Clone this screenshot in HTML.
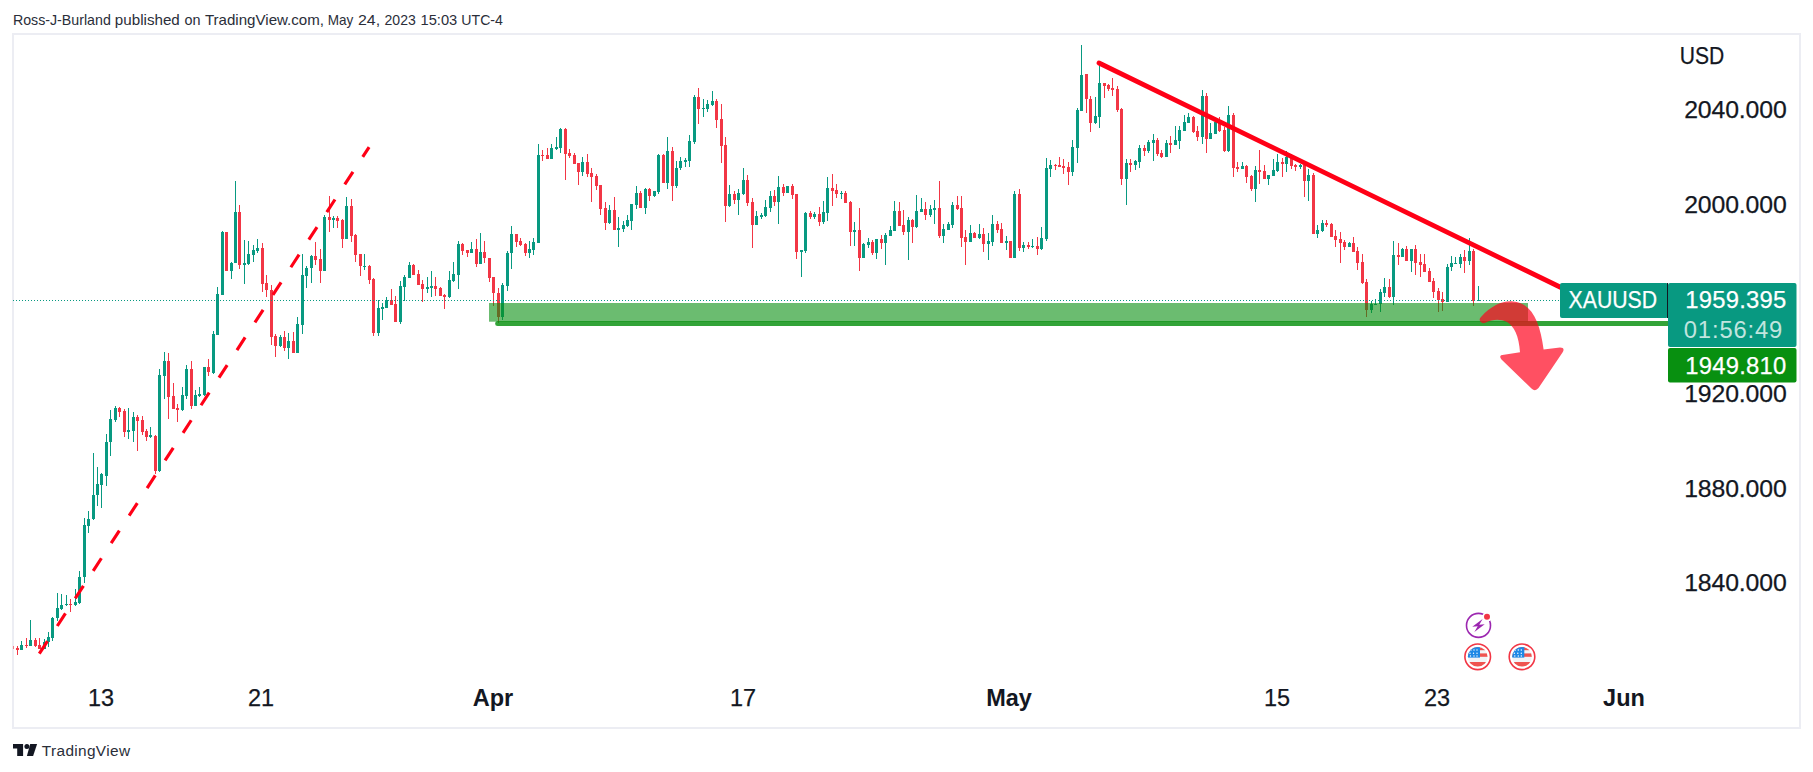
<!DOCTYPE html>
<html><head><meta charset="utf-8"><title>XAUUSD chart</title>
<style>
html,body{margin:0;padding:0;background:#fff;}
body{width:1813px;height:772px;position:relative;overflow:hidden;font-family:"Liberation Sans","DejaVu Sans",sans-serif;color:#131722;}
#frame{position:absolute;left:12px;top:33px;width:1785px;height:692px;border:2px solid #ecedf3;}
svg{position:absolute;left:0;top:0;}
.ax{font-size:24.8px;fill:#131722;stroke:#131722;stroke-width:0.25px;}
.tm{font-size:24.8px;fill:#131722;stroke:#131722;stroke-width:0.25px;}
.b{font-weight:bold;stroke:none;}
</style></head><body>
<div id="frame"></div>
<svg width="1813" height="772" viewBox="0 0 1813 772" font-family="'Liberation Sans','DejaVu Sans',sans-serif">
<!--HDR-->
<text y="25.3" font-size="14.6" fill="#2a2e39" xml:space="default"><tspan x="12.88" textLength="97.92" lengthAdjust="spacingAndGlyphs">Ross-J-Burland</tspan> <tspan x="114.88" textLength="64.92" lengthAdjust="spacingAndGlyphs">published</tspan> <tspan x="184.46" textLength="16.00" lengthAdjust="spacingAndGlyphs">on</tspan> <tspan x="204.90" textLength="119.14" lengthAdjust="spacingAndGlyphs">TradingView.com,</tspan> <tspan x="327.66" textLength="25.56" lengthAdjust="spacingAndGlyphs">May</tspan> <tspan x="358.00" textLength="22.14" lengthAdjust="spacingAndGlyphs">24,</tspan> <tspan x="384.56" textLength="31.24" lengthAdjust="spacingAndGlyphs">2023</tspan> <tspan x="420.54" textLength="36.70" lengthAdjust="spacingAndGlyphs">15:03</tspan> <tspan x="461.32" textLength="41.58" lengthAdjust="spacingAndGlyphs">UTC-4</tspan></text>
<!--/HDR-->
<!-- dotted price line -->
<g shape-rendering="crispEdges">
<rect x="13" y="646" width="1" height="3" fill="#f23645" fill-opacity="0.6"/>
<rect x="17" y="646" width="1" height="9" fill="#f23645"/><rect x="16" y="648" width="3" height="2" fill="#f23645"/>
<rect x="21" y="641" width="1" height="9" fill="#089981"/><rect x="20" y="645" width="3" height="5" fill="#089981"/>
<rect x="26" y="638" width="1" height="10" fill="#f23645"/><rect x="25" y="645" width="3" height="1" fill="#f23645"/>
<rect x="30" y="620" width="1" height="26" fill="#089981"/><rect x="29" y="640" width="3" height="6" fill="#089981"/>
<rect x="35" y="638" width="1" height="9" fill="#f23645"/><rect x="34" y="640" width="3" height="6" fill="#f23645"/>
<rect x="39" y="638" width="1" height="11" fill="#f23645"/><rect x="38" y="645" width="3" height="4" fill="#f23645"/>
<rect x="44" y="639" width="1" height="10" fill="#089981"/><rect x="43" y="642" width="3" height="7" fill="#089981"/>
<rect x="48" y="632" width="1" height="15" fill="#089981"/><rect x="47" y="637" width="3" height="5" fill="#089981"/>
<rect x="52" y="617" width="1" height="24" fill="#089981"/><rect x="51" y="618" width="3" height="20" fill="#089981"/>
<rect x="57" y="593" width="1" height="28" fill="#089981"/><rect x="56" y="608" width="3" height="10" fill="#089981"/>
<rect x="61" y="594" width="1" height="16" fill="#089981"/><rect x="60" y="605" width="3" height="4" fill="#089981"/>
<rect x="66" y="595" width="1" height="11" fill="#089981"/><rect x="65" y="604" width="3" height="1" fill="#089981"/>
<rect x="70" y="599" width="1" height="13" fill="#f23645"/><rect x="69" y="604" width="3" height="1" fill="#f23645"/>
<rect x="75" y="589" width="1" height="17" fill="#089981"/><rect x="74" y="602" width="3" height="3" fill="#089981"/>
<rect x="79" y="571" width="1" height="33" fill="#089981"/><rect x="78" y="577" width="3" height="26" fill="#089981"/>
<rect x="84" y="518" width="1" height="65" fill="#089981"/><rect x="83" y="525" width="3" height="52" fill="#089981"/>
<rect x="88" y="511" width="1" height="22" fill="#089981"/><rect x="87" y="519" width="3" height="7" fill="#089981"/>
<rect x="93" y="453" width="1" height="67" fill="#089981"/><rect x="92" y="495" width="3" height="24" fill="#089981"/>
<rect x="97" y="467" width="1" height="39" fill="#089981"/><rect x="96" y="484" width="3" height="11" fill="#089981"/>
<rect x="101" y="473" width="1" height="35" fill="#089981"/><rect x="100" y="474" width="3" height="11" fill="#089981"/>
<rect x="106" y="434" width="1" height="52" fill="#089981"/><rect x="105" y="442" width="3" height="34" fill="#089981"/>
<rect x="110" y="410" width="1" height="46" fill="#089981"/><rect x="109" y="419" width="3" height="23" fill="#089981"/>
<rect x="115" y="406" width="1" height="16" fill="#089981"/><rect x="114" y="408" width="3" height="12" fill="#089981"/>
<rect x="119" y="407" width="1" height="10" fill="#f23645"/><rect x="118" y="408" width="3" height="4" fill="#f23645"/>
<rect x="124" y="409" width="1" height="28" fill="#f23645"/><rect x="123" y="411" width="3" height="21" fill="#f23645"/>
<rect x="128" y="408" width="1" height="31" fill="#089981"/><rect x="127" y="430" width="3" height="2" fill="#089981"/>
<rect x="133" y="412" width="1" height="30" fill="#089981"/><rect x="132" y="417" width="3" height="14" fill="#089981"/>
<rect x="137" y="415" width="1" height="36" fill="#f23645"/><rect x="136" y="417" width="3" height="4" fill="#f23645"/>
<rect x="142" y="416" width="1" height="19" fill="#f23645"/><rect x="141" y="420" width="3" height="12" fill="#f23645"/>
<rect x="146" y="429" width="1" height="12" fill="#f23645"/><rect x="145" y="431" width="3" height="6" fill="#f23645"/>
<rect x="150" y="427" width="1" height="11" fill="#089981"/><rect x="149" y="435" width="3" height="2" fill="#089981"/>
<rect x="155" y="435" width="1" height="39" fill="#f23645"/><rect x="154" y="436" width="3" height="35" fill="#f23645"/>
<rect x="159" y="369" width="1" height="103" fill="#089981"/><rect x="158" y="375" width="3" height="96" fill="#089981"/>
<rect x="164" y="352" width="1" height="47" fill="#089981"/><rect x="163" y="361" width="3" height="15" fill="#089981"/>
<rect x="168" y="353" width="1" height="66" fill="#f23645"/><rect x="167" y="361" width="3" height="36" fill="#f23645"/>
<rect x="173" y="383" width="1" height="26" fill="#f23645"/><rect x="172" y="396" width="3" height="13" fill="#f23645"/>
<rect x="177" y="404" width="1" height="18" fill="#f23645"/><rect x="176" y="408" width="3" height="2" fill="#f23645"/>
<rect x="182" y="387" width="1" height="24" fill="#089981"/><rect x="181" y="395" width="3" height="15" fill="#089981"/>
<rect x="186" y="365" width="1" height="34" fill="#089981"/><rect x="185" y="369" width="3" height="27" fill="#089981"/>
<rect x="191" y="361" width="1" height="48" fill="#f23645"/><rect x="190" y="369" width="3" height="37" fill="#f23645"/>
<rect x="195" y="390" width="1" height="16" fill="#089981"/><rect x="194" y="395" width="3" height="11" fill="#089981"/>
<rect x="199" y="387" width="1" height="10" fill="#089981"/><rect x="198" y="394" width="3" height="2" fill="#089981"/>
<rect x="204" y="367" width="1" height="29" fill="#089981"/><rect x="203" y="367" width="3" height="28" fill="#089981"/>
<rect x="208" y="359" width="1" height="17" fill="#f23645"/><rect x="207" y="367" width="3" height="5" fill="#f23645"/>
<rect x="213" y="331" width="1" height="43" fill="#089981"/><rect x="212" y="334" width="3" height="39" fill="#089981"/>
<rect x="217" y="287" width="1" height="48" fill="#089981"/><rect x="216" y="294" width="3" height="41" fill="#089981"/>
<rect x="222" y="231" width="1" height="64" fill="#089981"/><rect x="221" y="232" width="3" height="63" fill="#089981"/>
<rect x="226" y="232" width="1" height="39" fill="#f23645"/><rect x="225" y="232" width="3" height="39" fill="#f23645"/>
<rect x="231" y="262" width="1" height="17" fill="#089981"/><rect x="230" y="263" width="3" height="8" fill="#089981"/>
<rect x="235" y="181" width="1" height="82" fill="#089981"/><rect x="234" y="212" width="3" height="51" fill="#089981"/>
<rect x="239" y="205" width="1" height="64" fill="#f23645"/><rect x="238" y="212" width="3" height="53" fill="#f23645"/>
<rect x="244" y="240" width="1" height="44" fill="#089981"/><rect x="243" y="263" width="3" height="2" fill="#089981"/>
<rect x="248" y="241" width="1" height="24" fill="#089981"/><rect x="247" y="254" width="3" height="10" fill="#089981"/>
<rect x="253" y="245" width="1" height="17" fill="#089981"/><rect x="252" y="250" width="3" height="5" fill="#089981"/>
<rect x="257" y="239" width="1" height="14" fill="#089981"/><rect x="256" y="248" width="3" height="3" fill="#089981"/>
<rect x="262" y="243" width="1" height="49" fill="#f23645"/><rect x="261" y="248" width="3" height="36" fill="#f23645"/>
<rect x="266" y="275" width="1" height="22" fill="#f23645"/><rect x="265" y="283" width="3" height="7" fill="#f23645"/>
<rect x="271" y="285" width="1" height="60" fill="#f23645"/><rect x="270" y="290" width="3" height="47" fill="#f23645"/>
<rect x="275" y="334" width="1" height="23" fill="#f23645"/><rect x="274" y="336" width="3" height="10" fill="#f23645"/>
<rect x="280" y="335" width="1" height="12" fill="#089981"/><rect x="279" y="337" width="3" height="9" fill="#089981"/>
<rect x="284" y="331" width="1" height="20" fill="#f23645"/><rect x="283" y="337" width="3" height="11" fill="#f23645"/>
<rect x="288" y="333" width="1" height="26" fill="#089981"/><rect x="287" y="341" width="3" height="7" fill="#089981"/>
<rect x="293" y="332" width="1" height="21" fill="#f23645"/><rect x="292" y="341" width="3" height="12" fill="#f23645"/>
<rect x="297" y="317" width="1" height="36" fill="#089981"/><rect x="296" y="324" width="3" height="29" fill="#089981"/>
<rect x="302" y="254" width="1" height="80" fill="#089981"/><rect x="301" y="275" width="3" height="50" fill="#089981"/>
<rect x="306" y="266" width="1" height="22" fill="#089981"/><rect x="305" y="268" width="3" height="8" fill="#089981"/>
<rect x="311" y="255" width="1" height="28" fill="#089981"/><rect x="310" y="256" width="3" height="12" fill="#089981"/>
<rect x="315" y="242" width="1" height="23" fill="#f23645"/><rect x="314" y="256" width="3" height="4" fill="#f23645"/>
<rect x="320" y="249" width="1" height="34" fill="#f23645"/><rect x="319" y="259" width="3" height="12" fill="#f23645"/>
<rect x="324" y="215" width="1" height="56" fill="#089981"/><rect x="323" y="217" width="3" height="54" fill="#089981"/>
<rect x="329" y="196" width="1" height="36" fill="#f23645"/><rect x="328" y="217" width="3" height="3" fill="#f23645"/>
<rect x="333" y="216" width="1" height="12" fill="#089981"/><rect x="332" y="218" width="3" height="2" fill="#089981"/>
<rect x="337" y="216" width="1" height="12" fill="#f23645"/><rect x="336" y="218" width="3" height="3" fill="#f23645"/>
<rect x="342" y="219" width="1" height="29" fill="#f23645"/><rect x="341" y="220" width="3" height="19" fill="#f23645"/>
<rect x="346" y="197" width="1" height="42" fill="#089981"/><rect x="345" y="206" width="3" height="33" fill="#089981"/>
<rect x="351" y="199" width="1" height="43" fill="#f23645"/><rect x="350" y="206" width="3" height="30" fill="#f23645"/>
<rect x="355" y="234" width="1" height="28" fill="#f23645"/><rect x="354" y="235" width="3" height="20" fill="#f23645"/>
<rect x="360" y="254" width="1" height="22" fill="#f23645"/><rect x="359" y="254" width="3" height="12" fill="#f23645"/>
<rect x="364" y="254" width="1" height="16" fill="#089981"/><rect x="363" y="266" width="3" height="1" fill="#089981"/>
<rect x="369" y="265" width="1" height="19" fill="#f23645"/><rect x="368" y="266" width="3" height="14" fill="#f23645"/>
<rect x="373" y="278" width="1" height="58" fill="#f23645"/><rect x="372" y="279" width="3" height="54" fill="#f23645"/>
<rect x="378" y="300" width="1" height="36" fill="#089981"/><rect x="377" y="308" width="3" height="25" fill="#089981"/>
<rect x="382" y="303" width="1" height="17" fill="#089981"/><rect x="381" y="307" width="3" height="2" fill="#089981"/>
<rect x="386" y="297" width="1" height="11" fill="#089981"/><rect x="385" y="300" width="3" height="8" fill="#089981"/>
<rect x="391" y="289" width="1" height="16" fill="#f23645"/><rect x="390" y="300" width="3" height="5" fill="#f23645"/>
<rect x="395" y="296" width="1" height="26" fill="#f23645"/><rect x="394" y="304" width="3" height="18" fill="#f23645"/>
<rect x="400" y="281" width="1" height="43" fill="#089981"/><rect x="399" y="286" width="3" height="36" fill="#089981"/>
<rect x="404" y="275" width="1" height="26" fill="#089981"/><rect x="403" y="277" width="3" height="10" fill="#089981"/>
<rect x="409" y="262" width="1" height="16" fill="#089981"/><rect x="408" y="265" width="3" height="13" fill="#089981"/>
<rect x="413" y="264" width="1" height="11" fill="#f23645"/><rect x="412" y="265" width="3" height="10" fill="#f23645"/>
<rect x="418" y="270" width="1" height="15" fill="#f23645"/><rect x="417" y="274" width="3" height="11" fill="#f23645"/>
<rect x="422" y="280" width="1" height="22" fill="#f23645"/><rect x="421" y="284" width="3" height="5" fill="#f23645"/>
<rect x="427" y="277" width="1" height="16" fill="#089981"/><rect x="426" y="287" width="3" height="2" fill="#089981"/>
<rect x="431" y="271" width="1" height="26" fill="#089981"/><rect x="430" y="286" width="3" height="2" fill="#089981"/>
<rect x="435" y="277" width="1" height="19" fill="#f23645"/><rect x="434" y="286" width="3" height="3" fill="#f23645"/>
<rect x="440" y="287" width="1" height="9" fill="#f23645"/><rect x="439" y="288" width="3" height="8" fill="#f23645"/>
<rect x="444" y="294" width="1" height="15" fill="#f23645"/><rect x="443" y="295" width="3" height="2" fill="#f23645"/>
<rect x="449" y="271" width="1" height="27" fill="#089981"/><rect x="448" y="280" width="3" height="17" fill="#089981"/>
<rect x="453" y="262" width="1" height="20" fill="#089981"/><rect x="452" y="274" width="3" height="7" fill="#089981"/>
<rect x="458" y="241" width="1" height="48" fill="#089981"/><rect x="457" y="244" width="3" height="31" fill="#089981"/>
<rect x="462" y="243" width="1" height="12" fill="#f23645"/><rect x="461" y="244" width="3" height="7" fill="#f23645"/>
<rect x="467" y="250" width="1" height="7" fill="#f23645"/><rect x="466" y="250" width="3" height="3" fill="#f23645"/>
<rect x="471" y="242" width="1" height="11" fill="#089981"/><rect x="470" y="249" width="3" height="4" fill="#089981"/>
<rect x="476" y="239" width="1" height="28" fill="#f23645"/><rect x="475" y="249" width="3" height="15" fill="#f23645"/>
<rect x="480" y="233" width="1" height="31" fill="#089981"/><rect x="479" y="252" width="3" height="12" fill="#089981"/>
<rect x="484" y="241" width="1" height="22" fill="#f23645"/><rect x="483" y="252" width="3" height="6" fill="#f23645"/>
<rect x="489" y="258" width="1" height="24" fill="#f23645"/><rect x="488" y="258" width="3" height="20" fill="#f23645"/>
<rect x="493" y="277" width="1" height="29" fill="#f23645"/><rect x="492" y="277" width="3" height="16" fill="#f23645"/>
<rect x="498" y="288" width="1" height="35" fill="#f23645"/><rect x="497" y="293" width="3" height="24" fill="#f23645"/>
<rect x="502" y="283" width="1" height="37" fill="#089981"/><rect x="501" y="285" width="3" height="32" fill="#089981"/>
<rect x="507" y="251" width="1" height="40" fill="#089981"/><rect x="506" y="253" width="3" height="33" fill="#089981"/>
<rect x="511" y="226" width="1" height="43" fill="#089981"/><rect x="510" y="234" width="3" height="19" fill="#089981"/>
<rect x="516" y="234" width="1" height="13" fill="#f23645"/><rect x="515" y="234" width="3" height="8" fill="#f23645"/>
<rect x="520" y="238" width="1" height="8" fill="#f23645"/><rect x="519" y="241" width="3" height="4" fill="#f23645"/>
<rect x="525" y="243" width="1" height="13" fill="#f23645"/><rect x="524" y="244" width="3" height="9" fill="#f23645"/>
<rect x="529" y="241" width="1" height="17" fill="#089981"/><rect x="528" y="249" width="3" height="4" fill="#089981"/>
<rect x="533" y="238" width="1" height="17" fill="#089981"/><rect x="532" y="242" width="3" height="8" fill="#089981"/>
<rect x="538" y="144" width="1" height="99" fill="#089981"/><rect x="537" y="155" width="3" height="88" fill="#089981"/>
<rect x="542" y="150" width="1" height="11" fill="#f23645"/><rect x="541" y="155" width="3" height="1" fill="#f23645"/>
<rect x="547" y="148" width="1" height="11" fill="#f23645"/><rect x="546" y="155" width="3" height="4" fill="#f23645"/>
<rect x="551" y="144" width="1" height="15" fill="#089981"/><rect x="550" y="148" width="3" height="11" fill="#089981"/>
<rect x="556" y="137" width="1" height="13" fill="#089981"/><rect x="555" y="147" width="3" height="2" fill="#089981"/>
<rect x="560" y="128" width="1" height="25" fill="#089981"/><rect x="559" y="129" width="3" height="19" fill="#089981"/>
<rect x="565" y="128" width="1" height="52" fill="#f23645"/><rect x="564" y="129" width="3" height="25" fill="#f23645"/>
<rect x="569" y="149" width="1" height="9" fill="#f23645"/><rect x="568" y="153" width="3" height="3" fill="#f23645"/>
<rect x="574" y="153" width="1" height="11" fill="#f23645"/><rect x="573" y="155" width="3" height="9" fill="#f23645"/>
<rect x="578" y="163" width="1" height="22" fill="#f23645"/><rect x="577" y="163" width="3" height="9" fill="#f23645"/>
<rect x="582" y="157" width="1" height="19" fill="#089981"/><rect x="581" y="162" width="3" height="10" fill="#089981"/>
<rect x="587" y="154" width="1" height="23" fill="#f23645"/><rect x="586" y="162" width="3" height="12" fill="#f23645"/>
<rect x="591" y="168" width="1" height="34" fill="#f23645"/><rect x="590" y="173" width="3" height="4" fill="#f23645"/>
<rect x="596" y="174" width="1" height="16" fill="#f23645"/><rect x="595" y="176" width="3" height="10" fill="#f23645"/>
<rect x="600" y="185" width="1" height="30" fill="#f23645"/><rect x="599" y="185" width="3" height="24" fill="#f23645"/>
<rect x="605" y="202" width="1" height="28" fill="#f23645"/><rect x="604" y="208" width="3" height="15" fill="#f23645"/>
<rect x="609" y="205" width="1" height="19" fill="#089981"/><rect x="608" y="210" width="3" height="13" fill="#089981"/>
<rect x="614" y="197" width="1" height="33" fill="#f23645"/><rect x="613" y="210" width="3" height="20" fill="#f23645"/>
<rect x="618" y="217" width="1" height="30" fill="#089981"/><rect x="617" y="228" width="3" height="2" fill="#089981"/>
<rect x="623" y="221" width="1" height="11" fill="#089981"/><rect x="622" y="225" width="3" height="4" fill="#089981"/>
<rect x="627" y="215" width="1" height="12" fill="#089981"/><rect x="626" y="220" width="3" height="6" fill="#089981"/>
<rect x="631" y="204" width="1" height="26" fill="#089981"/><rect x="630" y="204" width="3" height="17" fill="#089981"/>
<rect x="636" y="186" width="1" height="23" fill="#089981"/><rect x="635" y="193" width="3" height="12" fill="#089981"/>
<rect x="640" y="191" width="1" height="17" fill="#f23645"/><rect x="639" y="193" width="3" height="15" fill="#f23645"/>
<rect x="645" y="188" width="1" height="26" fill="#089981"/><rect x="644" y="189" width="3" height="19" fill="#089981"/>
<rect x="649" y="188" width="1" height="13" fill="#f23645"/><rect x="648" y="189" width="3" height="7" fill="#f23645"/>
<rect x="654" y="191" width="1" height="6" fill="#089981"/><rect x="653" y="191" width="3" height="5" fill="#089981"/>
<rect x="658" y="154" width="1" height="40" fill="#089981"/><rect x="657" y="155" width="3" height="37" fill="#089981"/>
<rect x="663" y="154" width="1" height="29" fill="#f23645"/><rect x="662" y="155" width="3" height="28" fill="#f23645"/>
<rect x="667" y="137" width="1" height="52" fill="#089981"/><rect x="666" y="151" width="3" height="32" fill="#089981"/>
<rect x="672" y="147" width="1" height="54" fill="#f23645"/><rect x="671" y="151" width="3" height="35" fill="#f23645"/>
<rect x="676" y="161" width="1" height="27" fill="#089981"/><rect x="675" y="168" width="3" height="18" fill="#089981"/>
<rect x="680" y="157" width="1" height="13" fill="#089981"/><rect x="679" y="161" width="3" height="7" fill="#089981"/>
<rect x="685" y="158" width="1" height="9" fill="#089981"/><rect x="684" y="160" width="3" height="2" fill="#089981"/>
<rect x="689" y="135" width="1" height="32" fill="#089981"/><rect x="688" y="141" width="3" height="20" fill="#089981"/>
<rect x="694" y="95" width="1" height="49" fill="#089981"/><rect x="693" y="97" width="3" height="45" fill="#089981"/>
<rect x="698" y="88" width="1" height="36" fill="#f23645"/><rect x="697" y="97" width="3" height="12" fill="#f23645"/>
<rect x="703" y="99" width="1" height="18" fill="#089981"/><rect x="702" y="108" width="3" height="1" fill="#089981"/>
<rect x="707" y="100" width="1" height="12" fill="#089981"/><rect x="706" y="104" width="3" height="5" fill="#089981"/>
<rect x="712" y="91" width="1" height="15" fill="#089981"/><rect x="711" y="101" width="3" height="4" fill="#089981"/>
<rect x="716" y="99" width="1" height="29" fill="#f23645"/><rect x="715" y="101" width="3" height="19" fill="#f23645"/>
<rect x="721" y="104" width="1" height="59" fill="#f23645"/><rect x="720" y="119" width="3" height="27" fill="#f23645"/>
<rect x="725" y="137" width="1" height="85" fill="#f23645"/><rect x="724" y="145" width="3" height="61" fill="#f23645"/>
<rect x="729" y="185" width="1" height="22" fill="#089981"/><rect x="728" y="194" width="3" height="12" fill="#089981"/>
<rect x="734" y="191" width="1" height="13" fill="#f23645"/><rect x="733" y="194" width="3" height="6" fill="#f23645"/>
<rect x="738" y="189" width="1" height="26" fill="#089981"/><rect x="737" y="193" width="3" height="7" fill="#089981"/>
<rect x="743" y="168" width="1" height="27" fill="#089981"/><rect x="742" y="180" width="3" height="14" fill="#089981"/>
<rect x="747" y="175" width="1" height="31" fill="#f23645"/><rect x="746" y="180" width="3" height="23" fill="#f23645"/>
<rect x="752" y="198" width="1" height="50" fill="#f23645"/><rect x="751" y="202" width="3" height="23" fill="#f23645"/>
<rect x="756" y="211" width="1" height="14" fill="#089981"/><rect x="755" y="216" width="3" height="9" fill="#089981"/>
<rect x="761" y="213" width="1" height="6" fill="#089981"/><rect x="760" y="215" width="3" height="2" fill="#089981"/>
<rect x="765" y="200" width="1" height="17" fill="#089981"/><rect x="764" y="207" width="3" height="9" fill="#089981"/>
<rect x="770" y="191" width="1" height="21" fill="#089981"/><rect x="769" y="196" width="3" height="12" fill="#089981"/>
<rect x="774" y="190" width="1" height="16" fill="#f23645"/><rect x="773" y="196" width="3" height="6" fill="#f23645"/>
<rect x="778" y="176" width="1" height="48" fill="#089981"/><rect x="777" y="187" width="3" height="15" fill="#089981"/>
<rect x="783" y="184" width="1" height="12" fill="#f23645"/><rect x="782" y="187" width="3" height="6" fill="#f23645"/>
<rect x="787" y="186" width="1" height="7" fill="#089981"/><rect x="786" y="186" width="3" height="7" fill="#089981"/>
<rect x="792" y="184" width="1" height="15" fill="#f23645"/><rect x="791" y="186" width="3" height="9" fill="#f23645"/>
<rect x="796" y="194" width="1" height="65" fill="#f23645"/><rect x="795" y="194" width="3" height="58" fill="#f23645"/>
<rect x="801" y="250" width="1" height="27" fill="#089981"/><rect x="800" y="250" width="3" height="2" fill="#089981"/>
<rect x="805" y="212" width="1" height="41" fill="#089981"/><rect x="804" y="213" width="3" height="38" fill="#089981"/>
<rect x="810" y="211" width="1" height="8" fill="#f23645"/><rect x="809" y="213" width="3" height="4" fill="#f23645"/>
<rect x="814" y="212" width="1" height="7" fill="#089981"/><rect x="813" y="214" width="3" height="3" fill="#089981"/>
<rect x="819" y="207" width="1" height="19" fill="#f23645"/><rect x="818" y="214" width="3" height="8" fill="#f23645"/>
<rect x="823" y="201" width="1" height="23" fill="#089981"/><rect x="822" y="212" width="3" height="10" fill="#089981"/>
<rect x="827" y="177" width="1" height="44" fill="#089981"/><rect x="826" y="188" width="3" height="25" fill="#089981"/>
<rect x="832" y="174" width="1" height="32" fill="#f23645"/><rect x="831" y="188" width="3" height="3" fill="#f23645"/>
<rect x="836" y="184" width="1" height="14" fill="#f23645"/><rect x="835" y="190" width="3" height="4" fill="#f23645"/>
<rect x="841" y="191" width="1" height="8" fill="#089981"/><rect x="840" y="193" width="3" height="1" fill="#089981"/>
<rect x="845" y="191" width="1" height="12" fill="#f23645"/><rect x="844" y="193" width="3" height="10" fill="#f23645"/>
<rect x="850" y="201" width="1" height="45" fill="#f23645"/><rect x="849" y="202" width="3" height="30" fill="#f23645"/>
<rect x="854" y="222" width="1" height="24" fill="#089981"/><rect x="853" y="230" width="3" height="2" fill="#089981"/>
<rect x="859" y="208" width="1" height="63" fill="#f23645"/><rect x="858" y="230" width="3" height="28" fill="#f23645"/>
<rect x="863" y="243" width="1" height="15" fill="#089981"/><rect x="862" y="244" width="3" height="14" fill="#089981"/>
<rect x="868" y="238" width="1" height="10" fill="#089981"/><rect x="867" y="242" width="3" height="3" fill="#089981"/>
<rect x="872" y="240" width="1" height="15" fill="#f23645"/><rect x="871" y="242" width="3" height="11" fill="#f23645"/>
<rect x="876" y="239" width="1" height="20" fill="#089981"/><rect x="875" y="239" width="3" height="14" fill="#089981"/>
<rect x="881" y="235" width="1" height="14" fill="#f23645"/><rect x="880" y="239" width="3" height="4" fill="#f23645"/>
<rect x="885" y="233" width="1" height="32" fill="#089981"/><rect x="884" y="235" width="3" height="8" fill="#089981"/>
<rect x="890" y="226" width="1" height="10" fill="#089981"/><rect x="889" y="230" width="3" height="6" fill="#089981"/>
<rect x="894" y="201" width="1" height="30" fill="#089981"/><rect x="893" y="211" width="3" height="20" fill="#089981"/>
<rect x="899" y="202" width="1" height="24" fill="#f23645"/><rect x="898" y="211" width="3" height="15" fill="#f23645"/>
<rect x="903" y="210" width="1" height="25" fill="#f23645"/><rect x="902" y="225" width="3" height="7" fill="#f23645"/>
<rect x="908" y="217" width="1" height="43" fill="#089981"/><rect x="907" y="220" width="3" height="12" fill="#089981"/>
<rect x="912" y="219" width="1" height="24" fill="#f23645"/><rect x="911" y="220" width="3" height="7" fill="#f23645"/>
<rect x="916" y="195" width="1" height="33" fill="#089981"/><rect x="915" y="211" width="3" height="16" fill="#089981"/>
<rect x="921" y="198" width="1" height="14" fill="#089981"/><rect x="920" y="209" width="3" height="3" fill="#089981"/>
<rect x="925" y="202" width="1" height="18" fill="#f23645"/><rect x="924" y="209" width="3" height="6" fill="#f23645"/>
<rect x="930" y="205" width="1" height="12" fill="#089981"/><rect x="929" y="209" width="3" height="6" fill="#089981"/>
<rect x="934" y="200" width="1" height="24" fill="#089981"/><rect x="933" y="208" width="3" height="2" fill="#089981"/>
<rect x="939" y="181" width="1" height="57" fill="#f23645"/><rect x="938" y="208" width="3" height="28" fill="#f23645"/>
<rect x="943" y="224" width="1" height="19" fill="#089981"/><rect x="942" y="229" width="3" height="7" fill="#089981"/>
<rect x="948" y="222" width="1" height="8" fill="#089981"/><rect x="947" y="224" width="3" height="6" fill="#089981"/>
<rect x="952" y="202" width="1" height="26" fill="#089981"/><rect x="951" y="205" width="3" height="20" fill="#089981"/>
<rect x="957" y="196" width="1" height="14" fill="#f23645"/><rect x="956" y="205" width="3" height="4" fill="#f23645"/>
<rect x="961" y="196" width="1" height="51" fill="#f23645"/><rect x="960" y="208" width="3" height="30" fill="#f23645"/>
<rect x="965" y="230" width="1" height="35" fill="#f23645"/><rect x="964" y="237" width="3" height="5" fill="#f23645"/>
<rect x="970" y="225" width="1" height="17" fill="#089981"/><rect x="969" y="233" width="3" height="9" fill="#089981"/>
<rect x="974" y="232" width="1" height="6" fill="#f23645"/><rect x="973" y="233" width="3" height="5" fill="#f23645"/>
<rect x="979" y="224" width="1" height="15" fill="#089981"/><rect x="978" y="234" width="3" height="4" fill="#089981"/>
<rect x="983" y="228" width="1" height="24" fill="#f23645"/><rect x="982" y="234" width="3" height="10" fill="#f23645"/>
<rect x="988" y="233" width="1" height="27" fill="#089981"/><rect x="987" y="241" width="3" height="3" fill="#089981"/>
<rect x="992" y="215" width="1" height="31" fill="#089981"/><rect x="991" y="224" width="3" height="18" fill="#089981"/>
<rect x="997" y="221" width="1" height="12" fill="#f23645"/><rect x="996" y="224" width="3" height="6" fill="#f23645"/>
<rect x="1001" y="223" width="1" height="20" fill="#f23645"/><rect x="1000" y="229" width="3" height="14" fill="#f23645"/>
<rect x="1006" y="236" width="1" height="14" fill="#089981"/><rect x="1005" y="241" width="3" height="2" fill="#089981"/>
<rect x="1010" y="241" width="1" height="17" fill="#f23645"/><rect x="1009" y="241" width="3" height="17" fill="#f23645"/>
<rect x="1014" y="191" width="1" height="67" fill="#089981"/><rect x="1013" y="194" width="3" height="64" fill="#089981"/>
<rect x="1019" y="189" width="1" height="62" fill="#f23645"/><rect x="1018" y="194" width="3" height="54" fill="#f23645"/>
<rect x="1023" y="242" width="1" height="10" fill="#089981"/><rect x="1022" y="245" width="3" height="3" fill="#089981"/>
<rect x="1028" y="242" width="1" height="7" fill="#f23645"/><rect x="1027" y="245" width="3" height="2" fill="#f23645"/>
<rect x="1032" y="239" width="1" height="9" fill="#089981"/><rect x="1031" y="246" width="3" height="1" fill="#089981"/>
<rect x="1037" y="237" width="1" height="18" fill="#f23645"/><rect x="1036" y="246" width="3" height="3" fill="#f23645"/>
<rect x="1041" y="227" width="1" height="23" fill="#089981"/><rect x="1040" y="238" width="3" height="11" fill="#089981"/>
<rect x="1046" y="158" width="1" height="83" fill="#089981"/><rect x="1045" y="168" width="3" height="71" fill="#089981"/>
<rect x="1050" y="160" width="1" height="17" fill="#089981"/><rect x="1049" y="165" width="3" height="4" fill="#089981"/>
<rect x="1055" y="164" width="1" height="6" fill="#f23645"/><rect x="1054" y="165" width="3" height="1" fill="#f23645"/>
<rect x="1059" y="157" width="1" height="10" fill="#f23645"/><rect x="1058" y="165" width="3" height="2" fill="#f23645"/>
<rect x="1063" y="159" width="1" height="15" fill="#f23645"/><rect x="1062" y="166" width="3" height="2" fill="#f23645"/>
<rect x="1068" y="162" width="1" height="23" fill="#f23645"/><rect x="1067" y="167" width="3" height="5" fill="#f23645"/>
<rect x="1072" y="140" width="1" height="36" fill="#089981"/><rect x="1071" y="147" width="3" height="25" fill="#089981"/>
<rect x="1077" y="108" width="1" height="55" fill="#089981"/><rect x="1076" y="110" width="3" height="38" fill="#089981"/>
<rect x="1081" y="45" width="1" height="66" fill="#089981"/><rect x="1080" y="75" width="3" height="36" fill="#089981"/>
<rect x="1086" y="74" width="1" height="39" fill="#f23645"/><rect x="1085" y="74" width="3" height="25" fill="#f23645"/>
<rect x="1090" y="96" width="1" height="36" fill="#f23645"/><rect x="1089" y="99" width="3" height="24" fill="#f23645"/>
<rect x="1095" y="97" width="1" height="27" fill="#089981"/><rect x="1094" y="116" width="3" height="7" fill="#089981"/>
<rect x="1099" y="65" width="1" height="63" fill="#089981"/><rect x="1098" y="83" width="3" height="34" fill="#089981"/>
<rect x="1104" y="83" width="1" height="15" fill="#f23645"/><rect x="1103" y="83" width="3" height="3" fill="#f23645"/>
<rect x="1108" y="84" width="1" height="7" fill="#f23645"/><rect x="1107" y="85" width="3" height="4" fill="#f23645"/>
<rect x="1112" y="78" width="1" height="18" fill="#f23645"/><rect x="1111" y="88" width="3" height="2" fill="#f23645"/>
<rect x="1117" y="86" width="1" height="26" fill="#f23645"/><rect x="1116" y="89" width="3" height="21" fill="#f23645"/>
<rect x="1121" y="108" width="1" height="77" fill="#f23645"/><rect x="1120" y="109" width="3" height="70" fill="#f23645"/>
<rect x="1126" y="159" width="1" height="46" fill="#089981"/><rect x="1125" y="163" width="3" height="16" fill="#089981"/>
<rect x="1130" y="159" width="1" height="13" fill="#f23645"/><rect x="1129" y="163" width="3" height="2" fill="#f23645"/>
<rect x="1135" y="160" width="1" height="10" fill="#089981"/><rect x="1134" y="161" width="3" height="4" fill="#089981"/>
<rect x="1139" y="145" width="1" height="23" fill="#089981"/><rect x="1138" y="148" width="3" height="14" fill="#089981"/>
<rect x="1144" y="145" width="1" height="11" fill="#f23645"/><rect x="1143" y="148" width="3" height="3" fill="#f23645"/>
<rect x="1148" y="140" width="1" height="13" fill="#089981"/><rect x="1147" y="142" width="3" height="9" fill="#089981"/>
<rect x="1153" y="134" width="1" height="27" fill="#089981"/><rect x="1152" y="140" width="3" height="3" fill="#089981"/>
<rect x="1157" y="138" width="1" height="18" fill="#f23645"/><rect x="1156" y="140" width="3" height="14" fill="#f23645"/>
<rect x="1161" y="150" width="1" height="8" fill="#f23645"/><rect x="1160" y="153" width="3" height="4" fill="#f23645"/>
<rect x="1166" y="140" width="1" height="17" fill="#089981"/><rect x="1165" y="143" width="3" height="14" fill="#089981"/>
<rect x="1170" y="136" width="1" height="17" fill="#f23645"/><rect x="1169" y="143" width="3" height="2" fill="#f23645"/>
<rect x="1175" y="126" width="1" height="19" fill="#089981"/><rect x="1174" y="140" width="3" height="5" fill="#089981"/>
<rect x="1179" y="126" width="1" height="23" fill="#089981"/><rect x="1178" y="130" width="3" height="11" fill="#089981"/>
<rect x="1184" y="115" width="1" height="16" fill="#089981"/><rect x="1183" y="122" width="3" height="9" fill="#089981"/>
<rect x="1188" y="113" width="1" height="10" fill="#089981"/><rect x="1187" y="117" width="3" height="6" fill="#089981"/>
<rect x="1193" y="116" width="1" height="17" fill="#f23645"/><rect x="1192" y="117" width="3" height="15" fill="#f23645"/>
<rect x="1197" y="126" width="1" height="15" fill="#f23645"/><rect x="1196" y="131" width="3" height="6" fill="#f23645"/>
<rect x="1202" y="90" width="1" height="54" fill="#089981"/><rect x="1201" y="96" width="3" height="41" fill="#089981"/>
<rect x="1206" y="93" width="1" height="60" fill="#f23645"/><rect x="1205" y="96" width="3" height="43" fill="#f23645"/>
<rect x="1210" y="123" width="1" height="16" fill="#089981"/><rect x="1209" y="133" width="3" height="6" fill="#089981"/>
<rect x="1215" y="120" width="1" height="14" fill="#089981"/><rect x="1214" y="122" width="3" height="12" fill="#089981"/>
<rect x="1219" y="117" width="1" height="15" fill="#f23645"/><rect x="1218" y="122" width="3" height="9" fill="#f23645"/>
<rect x="1224" y="127" width="1" height="25" fill="#f23645"/><rect x="1223" y="130" width="3" height="21" fill="#f23645"/>
<rect x="1228" y="106" width="1" height="46" fill="#089981"/><rect x="1227" y="115" width="3" height="36" fill="#089981"/>
<rect x="1233" y="113" width="1" height="64" fill="#f23645"/><rect x="1232" y="115" width="3" height="53" fill="#f23645"/>
<rect x="1237" y="162" width="1" height="10" fill="#f23645"/><rect x="1236" y="167" width="3" height="2" fill="#f23645"/>
<rect x="1242" y="162" width="1" height="7" fill="#089981"/><rect x="1241" y="166" width="3" height="3" fill="#089981"/>
<rect x="1246" y="165" width="1" height="18" fill="#f23645"/><rect x="1245" y="166" width="3" height="11" fill="#f23645"/>
<rect x="1251" y="175" width="1" height="16" fill="#f23645"/><rect x="1250" y="176" width="3" height="13" fill="#f23645"/>
<rect x="1255" y="166" width="1" height="36" fill="#089981"/><rect x="1254" y="170" width="3" height="19" fill="#089981"/>
<rect x="1259" y="150" width="1" height="34" fill="#f23645"/><rect x="1258" y="170" width="3" height="2" fill="#f23645"/>
<rect x="1264" y="165" width="1" height="14" fill="#f23645"/><rect x="1263" y="171" width="3" height="8" fill="#f23645"/>
<rect x="1268" y="175" width="1" height="10" fill="#089981"/><rect x="1267" y="175" width="3" height="4" fill="#089981"/>
<rect x="1273" y="159" width="1" height="17" fill="#089981"/><rect x="1272" y="170" width="3" height="6" fill="#089981"/>
<rect x="1277" y="154" width="1" height="18" fill="#089981"/><rect x="1276" y="162" width="3" height="9" fill="#089981"/>
<rect x="1282" y="158" width="1" height="19" fill="#f23645"/><rect x="1281" y="162" width="3" height="2" fill="#f23645"/>
<rect x="1286" y="151" width="1" height="21" fill="#089981"/><rect x="1285" y="157" width="3" height="7" fill="#089981"/>
<rect x="1291" y="154" width="1" height="15" fill="#f23645"/><rect x="1290" y="157" width="3" height="9" fill="#f23645"/>
<rect x="1295" y="164" width="1" height="7" fill="#f23645"/><rect x="1294" y="165" width="3" height="2" fill="#f23645"/>
<rect x="1300" y="164" width="1" height="5" fill="#089981"/><rect x="1299" y="165" width="3" height="2" fill="#089981"/>
<rect x="1304" y="162" width="1" height="35" fill="#f23645"/><rect x="1303" y="165" width="3" height="16" fill="#f23645"/>
<rect x="1308" y="169" width="1" height="32" fill="#089981"/><rect x="1307" y="175" width="3" height="6" fill="#089981"/>
<rect x="1313" y="173" width="1" height="61" fill="#f23645"/><rect x="1312" y="175" width="3" height="59" fill="#f23645"/>
<rect x="1317" y="225" width="1" height="13" fill="#089981"/><rect x="1316" y="230" width="3" height="4" fill="#089981"/>
<rect x="1322" y="220" width="1" height="12" fill="#089981"/><rect x="1321" y="223" width="3" height="8" fill="#089981"/>
<rect x="1326" y="220" width="1" height="7" fill="#f23645"/><rect x="1325" y="223" width="3" height="2" fill="#f23645"/>
<rect x="1331" y="223" width="1" height="14" fill="#f23645"/><rect x="1330" y="224" width="3" height="13" fill="#f23645"/>
<rect x="1335" y="230" width="1" height="17" fill="#f23645"/><rect x="1334" y="236" width="3" height="4" fill="#f23645"/>
<rect x="1340" y="232" width="1" height="31" fill="#f23645"/><rect x="1339" y="239" width="3" height="4" fill="#f23645"/>
<rect x="1344" y="240" width="1" height="10" fill="#f23645"/><rect x="1343" y="242" width="3" height="5" fill="#f23645"/>
<rect x="1349" y="242" width="1" height="5" fill="#089981"/><rect x="1348" y="243" width="3" height="4" fill="#089981"/>
<rect x="1353" y="237" width="1" height="15" fill="#f23645"/><rect x="1352" y="243" width="3" height="9" fill="#f23645"/>
<rect x="1357" y="247" width="1" height="23" fill="#f23645"/><rect x="1356" y="251" width="3" height="12" fill="#f23645"/>
<rect x="1362" y="254" width="1" height="30" fill="#f23645"/><rect x="1361" y="262" width="3" height="21" fill="#f23645"/>
<rect x="1366" y="279" width="1" height="38" fill="#f23645"/><rect x="1365" y="282" width="3" height="28" fill="#f23645"/>
<rect x="1371" y="301" width="1" height="12" fill="#089981"/><rect x="1370" y="304" width="3" height="6" fill="#089981"/>
<rect x="1375" y="299" width="1" height="5" fill="#089981"/><rect x="1374" y="304" width="3" height="1" fill="#089981"/>
<rect x="1380" y="289" width="1" height="23" fill="#089981"/><rect x="1379" y="292" width="3" height="12" fill="#089981"/>
<rect x="1384" y="278" width="1" height="19" fill="#089981"/><rect x="1383" y="287" width="3" height="6" fill="#089981"/>
<rect x="1389" y="279" width="1" height="19" fill="#f23645"/><rect x="1388" y="287" width="3" height="10" fill="#f23645"/>
<rect x="1393" y="241" width="1" height="64" fill="#089981"/><rect x="1392" y="255" width="3" height="42" fill="#089981"/>
<rect x="1398" y="243" width="1" height="22" fill="#f23645"/><rect x="1397" y="255" width="3" height="2" fill="#f23645"/>
<rect x="1402" y="248" width="1" height="9" fill="#089981"/><rect x="1401" y="249" width="3" height="8" fill="#089981"/>
<rect x="1406" y="246" width="1" height="15" fill="#f23645"/><rect x="1405" y="249" width="3" height="12" fill="#f23645"/>
<rect x="1411" y="249" width="1" height="23" fill="#089981"/><rect x="1410" y="249" width="3" height="12" fill="#089981"/>
<rect x="1415" y="245" width="1" height="30" fill="#f23645"/><rect x="1414" y="249" width="3" height="14" fill="#f23645"/>
<rect x="1420" y="254" width="1" height="23" fill="#f23645"/><rect x="1419" y="262" width="3" height="3" fill="#f23645"/>
<rect x="1424" y="254" width="1" height="18" fill="#f23645"/><rect x="1423" y="264" width="3" height="8" fill="#f23645"/>
<rect x="1429" y="268" width="1" height="14" fill="#f23645"/><rect x="1428" y="271" width="3" height="11" fill="#f23645"/>
<rect x="1433" y="278" width="1" height="20" fill="#f23645"/><rect x="1432" y="281" width="3" height="11" fill="#f23645"/>
<rect x="1438" y="288" width="1" height="24" fill="#f23645"/><rect x="1437" y="291" width="3" height="9" fill="#f23645"/>
<rect x="1442" y="292" width="1" height="19" fill="#f23645"/><rect x="1441" y="299" width="3" height="3" fill="#f23645"/>
<rect x="1447" y="264" width="1" height="38" fill="#089981"/><rect x="1446" y="267" width="3" height="35" fill="#089981"/>
<rect x="1451" y="256" width="1" height="15" fill="#089981"/><rect x="1450" y="263" width="3" height="4" fill="#089981"/>
<rect x="1455" y="257" width="1" height="7" fill="#089981"/><rect x="1454" y="263" width="3" height="1" fill="#089981"/>
<rect x="1460" y="254" width="1" height="14" fill="#089981"/><rect x="1459" y="257" width="3" height="7" fill="#089981"/>
<rect x="1464" y="250" width="1" height="23" fill="#f23645"/><rect x="1463" y="257" width="3" height="4" fill="#f23645"/>
<rect x="1469" y="238" width="1" height="27" fill="#089981"/><rect x="1468" y="251" width="3" height="10" fill="#089981"/>
<rect x="1473" y="249" width="1" height="57" fill="#f23645"/><rect x="1472" y="251" width="3" height="50" fill="#f23645"/>
<rect x="1478" y="286" width="1" height="15" fill="#089981"/><rect x="1477" y="300" width="3" height="1" fill="#089981"/>
</g>
<line x1="13" y1="300.5" x2="1560" y2="300.5" stroke="#089981" stroke-width="1" stroke-dasharray="1 2"/>
<!-- green zone -->
<rect x="489" y="303" width="1039" height="18.7" fill="rgba(8,144,16,0.6)"/>
<line x1="497.7" y1="323.4" x2="1668" y2="323.4" stroke="rgba(8,144,16,0.83)" stroke-width="5" stroke-linecap="round"/>
<!-- dashed trend line -->
<line x1="39.3" y1="653.6" x2="369.1" y2="147.1" stroke="#ff0016" stroke-width="3.15" stroke-dasharray="15 17.93"/>
<!-- main trend line -->
<line x1="1099" y1="63" x2="1562" y2="288" stroke="#ff0016" stroke-width="4.8" stroke-linecap="round"/>
<!-- arrow -->
<path d="M1481.5 322.5 Q1478 320 1481 317 C1492 305 1503 300.5 1513 301.5 C1532 303 1540 322 1543.6 349.5 L1560 347.6 Q1565.5 347.6 1562.5 352.5 L1538.5 388 Q1535.2 392 1531.5 388.5 L1501.5 359.5 Q1498 355 1504 354.8 L1520 352.3 C1519 336 1514 326 1507 322 C1500 318.5 1492 319.5 1486 322.5 Q1483 324 1481.5 322.5 Z" fill="rgba(255,2,28,0.69)"/>
<!-- labels -->
<rect x="1560" y="283" width="108" height="35" rx="2" fill="#089981"/>
<rect x="1668" y="283" width="128.5" height="64" rx="2" fill="#089981"/>
<rect x="1667" y="283" width="1" height="35" fill="#131722"/>
<rect x="1668" y="348" width="128.5" height="34.6" rx="2" fill="#089010"/>
<text x="1568.6" y="308.3" font-size="23.8" fill="#fff" stroke="#fff" stroke-width="0.25" textLength="88.5" lengthAdjust="spacingAndGlyphs">XAUUSD</text>
<text x="1685.2" y="308.3" font-size="23.8" fill="#fff" stroke="#fff" stroke-width="0.25" textLength="101" lengthAdjust="spacing">1959.395</text>
<text x="1683.8" y="337.6" font-size="23.8" fill="#fff" fill-opacity="0.75" textLength="98.5" lengthAdjust="spacing">01:56:49</text>
<text x="1685.2" y="373.5" font-size="23.8" fill="#fff" stroke="#fff" stroke-width="0.25" textLength="101" lengthAdjust="spacing">1949.810</text>
<!-- axis -->
<text class="ax" x="1679.8" y="63.6" textLength="44.5" lengthAdjust="spacingAndGlyphs">USD</text>
<text class="ax" x="1684.2" y="118.1" textLength="102.5" lengthAdjust="spacing">2040.000</text>
<text class="ax" x="1684.2" y="212.6" textLength="102.5" lengthAdjust="spacing">2000.000</text>
<text class="ax" x="1684.2" y="402.1" textLength="102.5" lengthAdjust="spacing">1920.000</text>
<text class="ax" x="1684.2" y="496.6" textLength="102.5" lengthAdjust="spacing">1880.000</text>
<text class="ax" x="1684.2" y="591.1" textLength="102.5" lengthAdjust="spacing">1840.000</text>
<!-- time -->
<text class="tm" x="101" y="705.5" text-anchor="middle" textLength="26.1" lengthAdjust="spacingAndGlyphs">13</text>
<text class="tm" x="261" y="705.5" text-anchor="middle" textLength="26.1" lengthAdjust="spacingAndGlyphs">21</text>
<text class="tm b" x="493" y="705.5" text-anchor="middle" textLength="40.5" lengthAdjust="spacingAndGlyphs">Apr</text>
<text class="tm" x="743" y="705.5" text-anchor="middle" textLength="26.1" lengthAdjust="spacingAndGlyphs">17</text>
<text class="tm b" x="1009" y="705.5" text-anchor="middle" textLength="45.7" lengthAdjust="spacingAndGlyphs">May</text>
<text class="tm" x="1277" y="705.5" text-anchor="middle" textLength="26.1" lengthAdjust="spacingAndGlyphs">15</text>
<text class="tm" x="1437" y="705.5" text-anchor="middle" textLength="26.1" lengthAdjust="spacingAndGlyphs">23</text>
<text class="tm b" x="1624" y="705.5" text-anchor="middle" textLength="41.8" lengthAdjust="spacingAndGlyphs">Jun</text>
<!-- icons -->
<g id="icons">
<circle cx="1478.5" cy="625.4" r="12" fill="none" stroke="#9c27b0" stroke-width="1.6"/>
<circle cx="1487" cy="616.8" r="4.8" fill="#fff"/>
<circle cx="1487" cy="616.8" r="3" fill="#f23645"/>
<path d="M1482.6 619 L1472.3 626.7 L1477.7 626.3 L1474.4 632 L1484.7 624.2 L1479.3 624.7 Z" fill="#9c27b0"/>
<g id="flag1">
<circle cx="1477.7" cy="656.8" r="12.8" fill="#fff" stroke="#f23645" stroke-width="1.6"/>
<clipPath id="fc1"><circle cx="1477.7" cy="656.8" r="9.8"/></clipPath>
<g clip-path="url(#fc1)">
<rect x="1466" y="646" width="24" height="22" fill="#f1f3f6"/>
<rect x="1466" y="647" width="24" height="3.2" fill="#ef5350"/>
<rect x="1466" y="653.4" width="24" height="3.4" fill="#ef5350"/>
<rect x="1466" y="662" width="24" height="5" fill="#ef5350"/>
<rect x="1466" y="646" width="14" height="11.6" fill="#1e88e5"/>
<g fill="#fff"><circle cx="1471" cy="650" r="0.7"/><circle cx="1474" cy="650" r="0.7"/><circle cx="1477" cy="650" r="0.7"/><circle cx="1470" cy="653.2" r="0.7"/><circle cx="1473.5" cy="653.2" r="0.7"/><circle cx="1477" cy="653.2" r="0.7"/><circle cx="1470.5" cy="656" r="0.7"/><circle cx="1474" cy="656" r="0.7"/><circle cx="1477" cy="656" r="0.7"/></g>
</g>
</g>
<g id="flag2" transform="translate(44.3,0)">
<circle cx="1477.7" cy="656.8" r="12.8" fill="#fff" stroke="#f23645" stroke-width="1.6"/>
<clipPath id="fc2"><circle cx="1477.7" cy="656.8" r="9.8"/></clipPath>
<g clip-path="url(#fc2)">
<rect x="1466" y="646" width="24" height="22" fill="#f1f3f6"/>
<rect x="1466" y="647" width="24" height="3.2" fill="#ef5350"/>
<rect x="1466" y="653.4" width="24" height="3.4" fill="#ef5350"/>
<rect x="1466" y="662" width="24" height="5" fill="#ef5350"/>
<rect x="1466" y="646" width="14" height="11.6" fill="#1e88e5"/>
<g fill="#fff"><circle cx="1471" cy="650" r="0.7"/><circle cx="1474" cy="650" r="0.7"/><circle cx="1477" cy="650" r="0.7"/><circle cx="1470" cy="653.2" r="0.7"/><circle cx="1473.5" cy="653.2" r="0.7"/><circle cx="1477" cy="653.2" r="0.7"/><circle cx="1470.5" cy="656" r="0.7"/><circle cx="1474" cy="656" r="0.7"/><circle cx="1477" cy="656" r="0.7"/></g>
</g>
</g>
</g>
<!-- TV logo -->
<g fill="#131722">
<path d="M13 744 H23.1 V756 H17.2 V748.5 H13 Z"/>
<circle cx="26.9" cy="746.4" r="2.5"/>
<path d="M30.2 744 H37.1 L33.1 756 H26.9 Z"/>
</g>
<text x="41.8" y="755.9" font-size="15.4" fill="#2a2e39" textLength="88.2" lengthAdjust="spacing">TradingView</text>
</svg>
</body></html>
